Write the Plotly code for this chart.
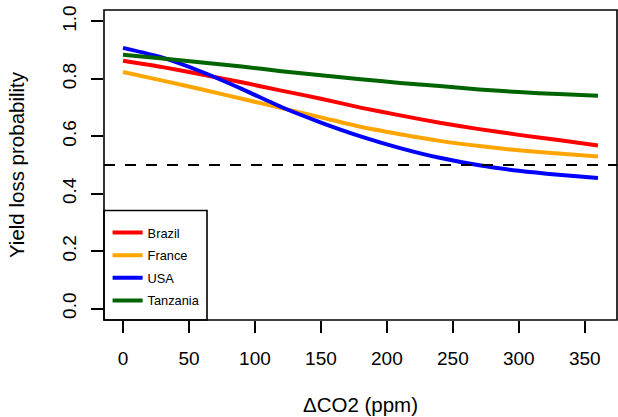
import plotly.graph_objects as go

# Data
co2 = [0, 30, 60, 90, 120, 150, 180, 210, 240, 270, 300, 330, 360]
brazil = [0.863, 0.841, 0.815, 0.788, 0.759, 0.731, 0.700, 0.673, 0.647, 0.625, 0.605, 0.587, 0.568]
france = [0.824, 0.794, 0.763, 0.731, 0.698, 0.666, 0.633, 0.607, 0.584, 0.566, 0.551, 0.540, 0.530]
usa = [0.908, 0.874, 0.824, 0.765, 0.702, 0.648, 0.600, 0.559, 0.525, 0.499, 0.480, 0.466, 0.455]
tanzania = [0.884, 0.871, 0.857, 0.843, 0.827, 0.813, 0.799, 0.786, 0.775, 0.763, 0.754, 0.747, 0.741]

series_names = ["Brazil", "France", "USA", "Tanzania"]
series_values = [brazil, france, usa, tanzania]
series_colors = ["#FF0000", "#FFA500", "#0000FF", "#006400"]

x_ticks = [0, 50, 100, 150, 200, 250, 300, 350]
y_ticks = [0.0, 0.2, 0.4, 0.6, 0.8, 1.0]
y_ticklabels = ["0.0", "0.2", "0.4", "0.6", "0.8", "1.0"]
threshold = 0.5

FONT = "Liberation Sans, Arial, Helvetica, sans-serif"

fig = go.Figure()
for name, vals, col in zip(series_names, series_values, series_colors):
    fig.add_trace(go.Scatter(
        x=co2, y=vals, mode="lines", name=name, legendgroup=name,
        line=dict(color=col, width=4, shape="spline", smoothing=0.6),
    ))

# dashed threshold line
fig.add_shape(type="line", xref="paper", yref="y", x0=0, x1=1, y0=threshold, y1=threshold,
              line=dict(color="black", width=2, dash="11px,10px"))
# plot box
fig.add_shape(type="rect", xref="paper", yref="paper", x0=0, x1=1, y0=0, y1=1,
              line=dict(color="black", width=1.6))
# legend box
fig.add_shape(type="rect", xref="paper", yref="paper", x0=0, x1=0.2008, y0=0, y1=0.353,
              line=dict(color="black", width=1.6), fillcolor="rgba(0,0,0,0)")

fig.update_layout(
    width=618, height=417,
    margin=dict(l=104, r=1, t=10, b=97, autoexpand=False),
    paper_bgcolor="white", plot_bgcolor="white",
    font=dict(family=FONT, color="black", size=19),
    showlegend=True,
    legend=dict(x=0.007, y=0.33, xanchor="left", yanchor="top",
                bgcolor="rgba(0,0,0,0)", borderwidth=0,
                font=dict(size=12.8, family=FONT), tracegroupgap=3),
    xaxis=dict(range=[-14.4, 374.4], tickvals=x_ticks, ticks="outside", ticklen=12,
               tickwidth=1.5, tickcolor="black", showgrid=False, zeroline=False,
               showline=False, ticklabelstandoff=9, automargin=False,
               title=dict(text="ΔCO2 (ppm)", font=dict(size=20.5), standoff=29)),
    yaxis=dict(range=[-0.04, 1.04], tickvals=y_ticks, ticktext=y_ticklabels,
               ticks="outside", ticklen=12, tickwidth=1.5, tickcolor="black",
               tickangle=-90, showgrid=False, zeroline=False, showline=False,
               ticklabelstandoff=7, automargin=False,
               title=dict(text="Yield loss probability", font=dict(size=20.5), standoff=29)),
)

fig.write_html("out.html",
               config={"displayModeBar": False},
               post_script="document.body.style.margin='0';document.body.style.padding='0';"
                           "document.body.style.overflow='hidden';")
